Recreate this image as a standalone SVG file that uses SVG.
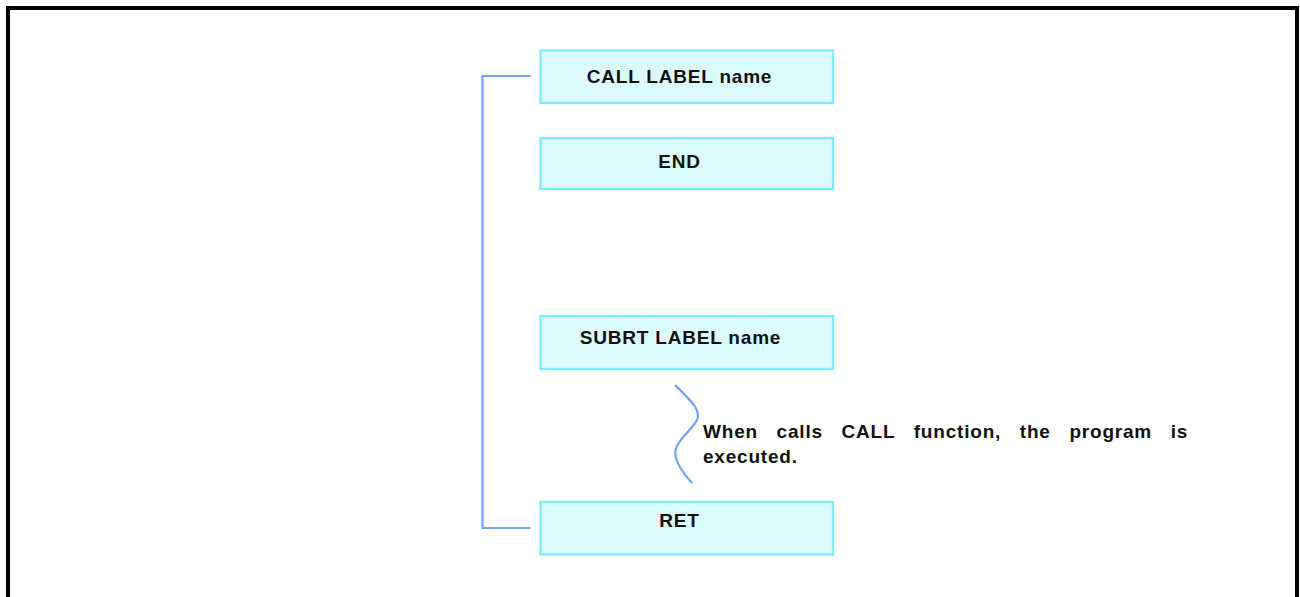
<svg xmlns="http://www.w3.org/2000/svg" width="1300" height="597" viewBox="0 0 1300 597">
<style>
.box{fill:#dcfafa;stroke:#80ecf4;stroke-width:2.3}
.lbl{font-family:"Liberation Sans",Arial,sans-serif;font-weight:bold;font-size:19px;letter-spacing:0.8px;fill:#111}
.conn{fill:none;stroke:#6aa5f6;stroke-width:2.2}
</style>
<rect x="0" y="0" width="1300" height="597" fill="#ffffff"/>
<path d="M8,600 V8 H1297 V600" fill="none" stroke="#000" stroke-width="4"/>
<g id="connectors">
<path class="conn" d="M530.5,76 H482.5 V528 H530.5"/>
<path class="conn" d="M675,385 C688,398 702,410 697,420 C691,432 671,443 676,458 C679,469 686,476 692,483"/>
</g>
<g id="node-call">
<rect class="box" x="540.5" y="50.5" width="292.5" height="52.5"/>
<text class="lbl" x="679.5" y="82.7" text-anchor="middle">CALL LABEL name</text>
</g>
<g id="node-end">
<rect class="box" x="540.5" y="138" width="292.5" height="51"/>
<text class="lbl" x="679.5" y="168.3" text-anchor="middle">END</text>
</g>
<g id="node-subrt">
<rect class="box" x="540.5" y="316" width="292.5" height="53"/>
<text class="lbl" x="680.5" y="344" text-anchor="middle">SUBRT LABEL name</text>
</g>
<g id="node-ret">
<rect class="box" x="540.5" y="502" width="292.5" height="52.5"/>
<text class="lbl" x="679.5" y="527.3" text-anchor="middle">RET</text>
</g>
<g id="note">
<text class="lbl" x="703" y="437.7" word-spacing="12.6">When calls CALL function, the program is</text>
<text class="lbl" x="703" y="463.3">executed.</text>
</g>
</svg>
